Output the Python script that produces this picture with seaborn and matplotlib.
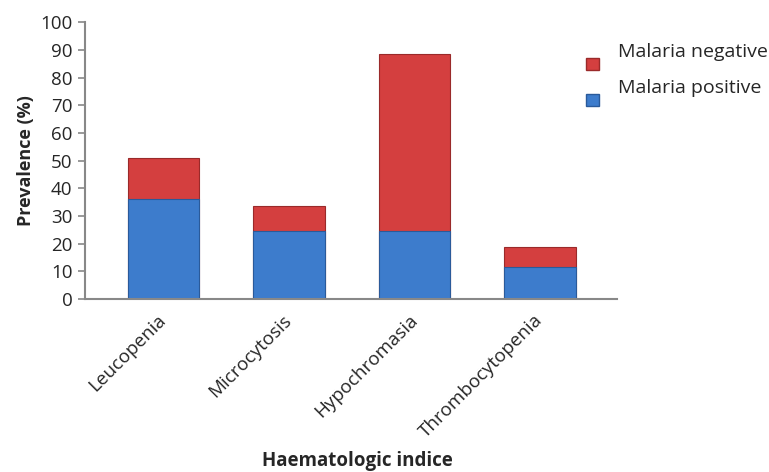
import pandas as pd
import seaborn as sns
import matplotlib.pyplot as plt
from matplotlib.patches import Patch

# Values
indices = ["Leucopenia", "Microcytosis", "Hypochromasia", "Thrombocytopenia"]
malaria_positive = [36.2, 24.7, 24.7, 11.4]
malaria_negative = [14.7, 9.0, 63.7, 7.3]

df = pd.DataFrame({"indice": indices,
                   "positive": malaria_positive,
                   "negative": malaria_negative})
df["total"] = df["positive"] + df["negative"]

sns.set_theme(style="white")
plt.rcParams["font.family"] = ["Open Sans", "DejaVu Sans"]

red = "#d43f3f"
blue = "#3d7ccc"

fig = plt.figure(figsize=(7.69, 4.72), dpi=100)
ax = fig.add_axes([0.1105, 0.3665, 0.6915, 0.5865])

# stacked bars: draw the totals in red, then the positive part in blue on top
sns.barplot(data=df, x="indice", y="total", color=red, width=0.57,
            saturation=1, edgecolor="#9a2a2a", linewidth=0.8, ax=ax)
sns.barplot(data=df, x="indice", y="positive", color=blue, width=0.57,
            saturation=1, edgecolor="#2a5a9a", linewidth=0.8, ax=ax)

ax.set_ylim(0, 100)
ax.set_xlim(-0.625, 3.61)
ax.set_yticks(range(0, 101, 10))
ax.tick_params(axis="y", labelsize=13.5, length=5, width=1.2,
               color="#888888", left=True, pad=4)
ax.tick_params(axis="x", labelsize=13.5, length=0, pad=13.5)
for lab in ax.get_xticklabels():
    lab.set_rotation(45)
    lab.set_ha("right")
    lab.set_va("center")
    lab.set_rotation_mode("anchor")

for side in ["top", "right"]:
    ax.spines[side].set_visible(False)
for side in ["left", "bottom"]:
    ax.spines[side].set_color("#888888")
    ax.spines[side].set_linewidth(1.5)

ax.set_ylabel("Prevalence (%)", fontsize=13, fontweight="bold", labelpad=4)
ax.set_xlabel("")
fig.text(0.465, 0.0127, "Haematologic indice", fontsize=13.5,
         fontweight="bold", ha="center", va="baseline")

handles = [Patch(facecolor=red, edgecolor="#9a2a2a", label="Malaria negative"),
           Patch(facecolor=blue, edgecolor="#2a5a9a", label="Malaria positive")]
leg = fig.legend(handles=handles, loc="upper left", bbox_to_anchor=(0.739, 0.917),
                 frameon=False, fontsize=14, handlelength=0.67, handleheight=0.57,
                 handletextpad=0.98, labelspacing=0.95)
# labels sit a little above their markers in the original
for t in leg.get_texts():
    t.set_y(14)

fig.savefig("out.png", dpi=100)
